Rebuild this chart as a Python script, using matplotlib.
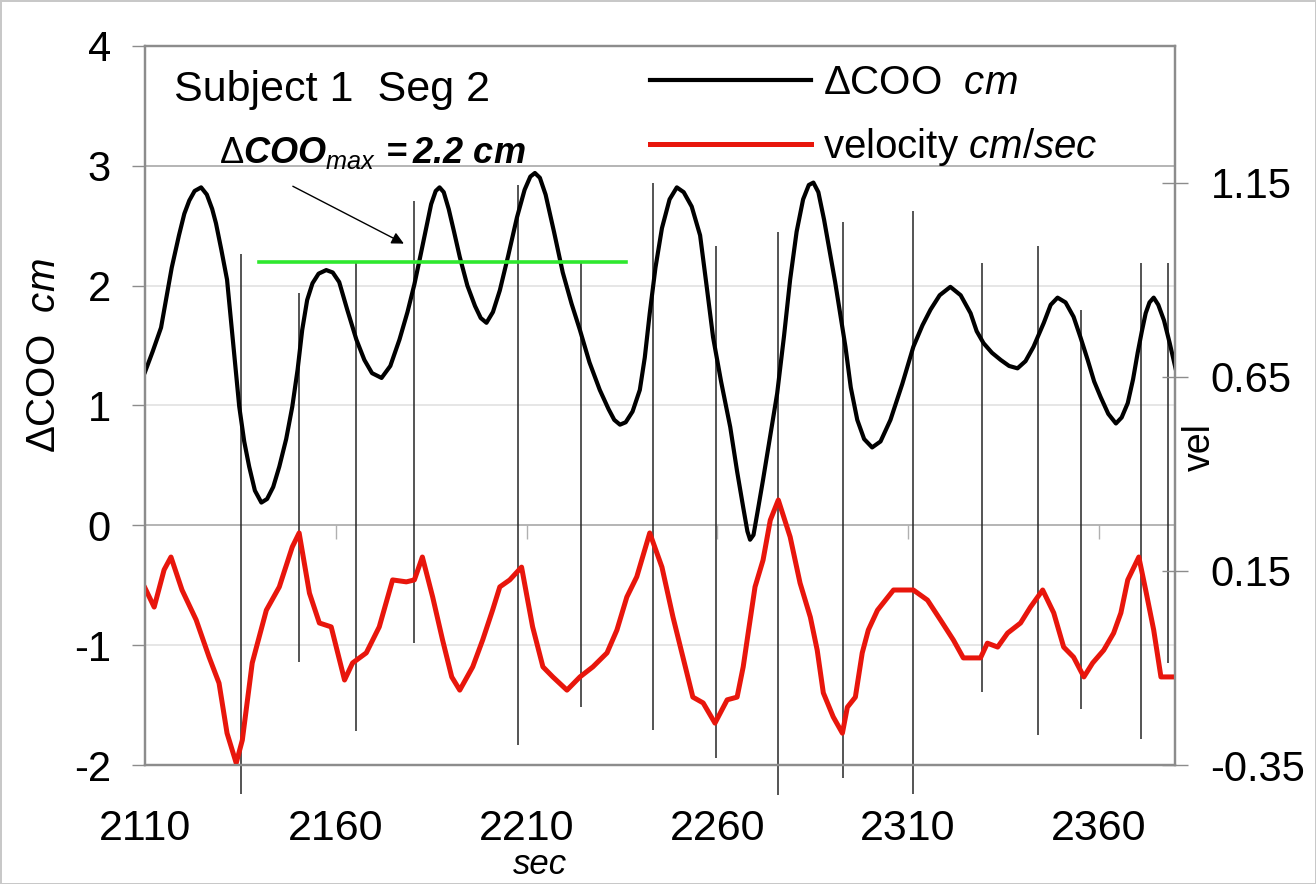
import numpy as np
import matplotlib
matplotlib.use("Agg")
import matplotlib.pyplot as plt
from matplotlib.ticker import NullFormatter

plt.rcParams['font.family'] = ['Liberation Sans', 'DejaVu Sans']
plt.rcParams['axes.unicode_minus'] = False
plt.rcParams['mathtext.fontset'] = 'custom'
plt.rcParams['mathtext.rm'] = 'Liberation Sans'
plt.rcParams['mathtext.it'] = 'Liberation Sans:italic'
plt.rcParams['mathtext.bf'] = 'Liberation Sans:bold'
plt.rcParams['mathtext.bfit'] = 'Liberation Sans:italic:bold'

# ΔCOO (cm)
coo_t = [2110.0, 2112.0, 2114.2, 2115.5, 2117.0, 2118.9, 2120.3, 2121.6, 2123.0, 2124.7,
         2126.2, 2127.6, 2128.6, 2130.0, 2131.5, 2133.0, 2134.7, 2136.0, 2137.3, 2138.8,
         2140.5, 2142.0, 2143.6, 2145.2, 2147.0, 2148.6, 2150.0, 2151.2, 2152.5, 2153.9,
         2155.5, 2157.5, 2159.2, 2160.9, 2163.0, 2165.4, 2167.5, 2169.5, 2172.0, 2174.3,
         2176.7, 2178.8, 2180.6, 2182.0, 2183.3, 2185.0, 2186.2, 2187.2, 2188.3, 2189.6,
         2191.0, 2192.5, 2194.5, 2196.5, 2198.0, 2199.5, 2201.2, 2203.0, 2205.2, 2207.5,
         2209.5, 2211.0, 2212.2, 2213.5, 2215.0, 2217.2, 2219.5, 2221.8, 2224.0, 2226.5,
         2229.2, 2231.5, 2233.0, 2234.5, 2236.0, 2237.8, 2239.7, 2241.0, 2242.3, 2243.8,
         2245.5, 2247.5, 2249.4, 2251.2, 2253.3, 2255.5, 2257.2, 2258.9, 2261.0, 2263.4,
         2265.2, 2266.8, 2267.9, 2268.6, 2269.5, 2270.6, 2272.0, 2273.9, 2275.7, 2277.5,
         2279.1, 2280.8, 2282.5, 2284.0, 2285.2, 2286.5, 2288.0, 2289.5, 2290.9, 2293.6,
         2295.0, 2296.7, 2298.5, 2300.6, 2302.8, 2305.4, 2308.5, 2311.4, 2313.8, 2315.9,
         2318.3, 2321.1, 2323.8, 2326.4, 2328.0, 2329.8, 2332.0, 2334.3, 2336.5, 2338.7,
         2340.8, 2342.9, 2345.6, 2347.4, 2349.2, 2351.3, 2353.4, 2355.2, 2357.1, 2358.8,
         2360.5, 2362.5, 2364.5, 2366.0, 2367.6, 2369.0, 2370.2, 2371.3, 2372.3, 2373.3,
         2374.4, 2375.6, 2377.1, 2378.6, 2380.2]
coo_v = [1.28, 1.45, 1.65, 1.88, 2.15, 2.42, 2.60, 2.71, 2.79, 2.82,
         2.76, 2.64, 2.52, 2.30, 2.05, 1.55, 0.99, 0.70, 0.49, 0.29,
         0.19, 0.22, 0.32, 0.49, 0.72, 0.99, 1.30, 1.63, 1.88, 2.02,
         2.10, 2.13, 2.11, 2.03, 1.80, 1.55, 1.38, 1.27, 1.23, 1.33,
         1.55, 1.78, 2.01, 2.22, 2.42, 2.68, 2.79, 2.82, 2.78, 2.64,
         2.45, 2.24, 2.00, 1.83, 1.73, 1.69, 1.78, 1.96, 2.25, 2.57,
         2.80, 2.91, 2.94, 2.90, 2.76, 2.45, 2.11, 1.85, 1.63, 1.36,
         1.13, 0.97, 0.88, 0.84, 0.86, 0.95, 1.13, 1.40, 1.77, 2.15,
         2.48, 2.72, 2.82, 2.78, 2.66, 2.42, 2.00, 1.57, 1.20, 0.82,
         0.45, 0.15, -0.05, -0.12, -0.08, 0.12, 0.38, 0.75, 1.10, 1.58,
         2.05, 2.45, 2.72, 2.84, 2.86, 2.78, 2.55, 2.28, 2.03, 1.49,
         1.15, 0.88, 0.72, 0.65, 0.70, 0.88, 1.18, 1.49, 1.67, 1.80,
         1.92, 1.99, 1.92, 1.77, 1.62, 1.52, 1.44, 1.38, 1.33, 1.31,
         1.37, 1.49, 1.69, 1.84, 1.90, 1.86, 1.74, 1.57, 1.38, 1.20,
         1.07, 0.93, 0.85, 0.90, 1.02, 1.22, 1.44, 1.62, 1.77, 1.86,
         1.90, 1.84, 1.71, 1.52, 1.30]

# velocity (cm/sec), right axis
vel_t = [2110.0, 2112.4, 2115.0, 2116.8, 2119.7, 2123.4, 2126.8, 2129.4, 2131.5, 2133.9,
         2135.5, 2138.1, 2141.8, 2145.2, 2148.6, 2150.4, 2153.1, 2155.7, 2158.8, 2162.3,
         2164.4, 2168.0, 2171.4, 2174.9, 2178.5, 2180.6, 2182.7, 2185.4, 2188.0, 2190.4,
         2192.5, 2195.9, 2198.5, 2201.1, 2203.0, 2205.6, 2208.7, 2211.6, 2214.3, 2216.9,
         2220.6, 2224.0, 2227.4, 2231.1, 2233.7, 2236.3, 2238.9, 2242.3, 2245.5, 2248.4,
         2251.0, 2253.6, 2256.3, 2259.4, 2262.6, 2265.2, 2266.8, 2268.1, 2269.9, 2272.0,
         2273.9, 2276.0, 2279.1, 2281.7, 2284.4, 2286.2, 2287.8, 2290.4, 2292.8, 2294.1,
         2296.2, 2298.0, 2299.6, 2302.0, 2304.1, 2306.2, 2311.4, 2315.1, 2318.5, 2321.9,
         2324.5, 2329.0, 2330.8, 2333.5, 2336.1, 2339.5, 2342.1, 2345.3, 2348.2, 2350.8,
         2353.4, 2356.1, 2358.4, 2361.3, 2363.9, 2365.8, 2367.6, 2370.5, 2372.3, 2374.4,
         2376.3, 2380.2]
vel_v = [0.106, 0.057, 0.153, 0.186, 0.101, 0.024, -0.072, -0.139, -0.268, -0.345,
         -0.286, -0.087, 0.049, 0.109, 0.212, 0.248, 0.093, 0.016, 0.006, -0.131,
         -0.087, -0.061, 0.006, 0.127, 0.122, 0.127, 0.186, 0.083, -0.028, -0.123,
         -0.157, -0.097, -0.028, 0.049, 0.109, 0.127, 0.160, 0.006, -0.097, -0.123,
         -0.157, -0.123, -0.097, -0.061, -0.002, 0.083, 0.135, 0.248, 0.160, 0.031,
         -0.072, -0.175, -0.190, -0.242, -0.182, -0.175, -0.097, -0.010, 0.109, 0.178,
         0.281, 0.333, 0.238, 0.119, 0.031, -0.054, -0.164, -0.226, -0.268, -0.201,
         -0.175, -0.061, -0.002, 0.049, 0.075, 0.101, 0.101, 0.075, 0.024, -0.028,
         -0.074, -0.074, -0.036, -0.046, -0.010, 0.016, 0.057, 0.101, 0.042, -0.046,
         -0.072, -0.123, -0.087, -0.054, -0.010, 0.042, 0.127, 0.186, 0.101, -0.002,
         -0.123, -0.123]

# event markers (vertical lines), in ΔCOO units
event_t = [2135.2, 2150.4, 2165.4, 2180.6, 2207.7, 2224.2, 2243.1, 2259.7,
           2276.0, 2293.0, 2311.4, 2329.5, 2344.0, 2355.3, 2371.0, 2378.1]
event_top = [2.26, 1.94, 2.19, 2.71, 2.84, 2.20, 2.86, 2.33,
             2.45, 2.53, 2.62, 2.19, 2.33, 1.80, 2.19, 2.19]
event_bot = [-2.24, -1.14, -1.72, -0.98, -1.83, -1.52, -1.71, -1.94,
             -2.25, -2.11, -2.24, -1.39, -1.75, -1.53, -1.78, -1.15]

coo_max = 2.2
max_span = [2140.0, 2236.0]

left_ticks = [-2, -1, 0, 1, 2, 3, 4]
right_ticks = [-0.35, 0.15, 0.65, 1.15]
x_ticks = [2110, 2160, 2210, 2260, 2310, 2360]

fig = plt.figure(figsize=(13.16, 8.84), dpi=100)
fig.patch.set_edgecolor('#c8c8c8')
fig.patch.set_linewidth(2)
ax = fig.add_axes([0.1102, 0.1346, 0.7827, 0.8134])

frame = '#8c8c8c'
for y in left_ticks:
    c = '#a8a8a8' if y in (0, 3) else '#e2e2e2'
    ax.axhline(y, color=c, lw=1.2, zorder=0)

ax.vlines(event_t, event_bot, event_top, color='#262626', lw=1.1, clip_on=False, zorder=2)
ax.plot(coo_t, coo_v, color='black', lw=3.0, zorder=3, label=r'$\Delta$COO  $cm$',
        solid_joinstyle='round')
ax.plot(max_span, [coo_max, coo_max], color='#2ee82e', lw=2.6, zorder=4)

ax.set_xlim(2110, 2380)
ax.set_ylim(-2, 4)
ax.set_yticks(left_ticks)
ax.set_xticks(x_ticks)
ax.tick_params(axis='y', direction='out', length=9.5, width=1, color=frame, pad=15, labelsize=30)
ax.tick_params(axis='x', length=0, pad=32, labelsize=31)
for s in ax.spines.values():
    s.set_color(frame)
    s.set_linewidth(1.6)

# small tick marks on the zero line
sec = ax.secondary_xaxis(1 / 3)
sec.set_xticks(x_ticks[1:])
sec.xaxis.set_ticks_position('bottom')
sec.xaxis.set_major_formatter(NullFormatter())
sec.tick_params(direction='out', length=10, width=1, color='#b0b0b0')
sec.spines['top'].set_visible(False)
sec.spines['bottom'].set_visible(False)

ax.set_ylabel(r'$\Delta$COO  $cm$', fontsize=29)
ax.yaxis.set_label_coords(-0.080, 0.57)
ax.set_xlabel('sec', fontsize=25, style='italic')
ax.xaxis.set_label_coords(0.383, -0.151)
ax.xaxis.label.set_va('baseline')

ax.text(2117.6, 3.63, 'Subject 1  Seg 2', fontsize=31, ha='left', va='center')
ax.text(2129.4, 3.11, r'$\Delta\mathbfit{COO}_{\mathit{max}}\,\mathbfit{=2.2\ cm}$',
        fontsize=26, ha='left', va='center')
ax.annotate('', xy=(2178.5, 2.34), xytext=(2148.1, 2.84),
            arrowprops=dict(arrowstyle='-|>', color='black', lw=1, mutation_scale=18))

ax2 = ax.twinx()
ax2.plot(vel_t, vel_v, color='#e8160c', lw=3.6, label=r'velocity $cm/sec$')
ax2.set_ylim(-0.35, 1.503)
ax2.set_yticks(right_ticks)
ax2.set_yticklabels(['-0.35', '0.15', '0.65', '1.15'])
ax2.tick_params(axis='y', direction='inout', length=19, width=1, color=frame, pad=16, labelsize=30)
for s in ax2.spines.values():
    s.set_color(frame)
    s.set_linewidth(1.6)
ax2.set_ylabel('vel', fontsize=27)
ax2.yaxis.set_label_coords(1.007, 0.442)

h1, l1 = ax.get_legend_handles_labels()
h2, l2 = ax2.get_legend_handles_labels()
ax2.legend(h1 + h2, l1 + l2, loc='upper left', bbox_to_anchor=(0.49, 0.975), frameon=False,
           fontsize=29, handlelength=4.0, handletextpad=0.3, labelspacing=0.6, borderpad=0,
           borderaxespad=0)

fig.savefig('out.png', dpi=100, facecolor='white', edgecolor=fig.get_edgecolor())
